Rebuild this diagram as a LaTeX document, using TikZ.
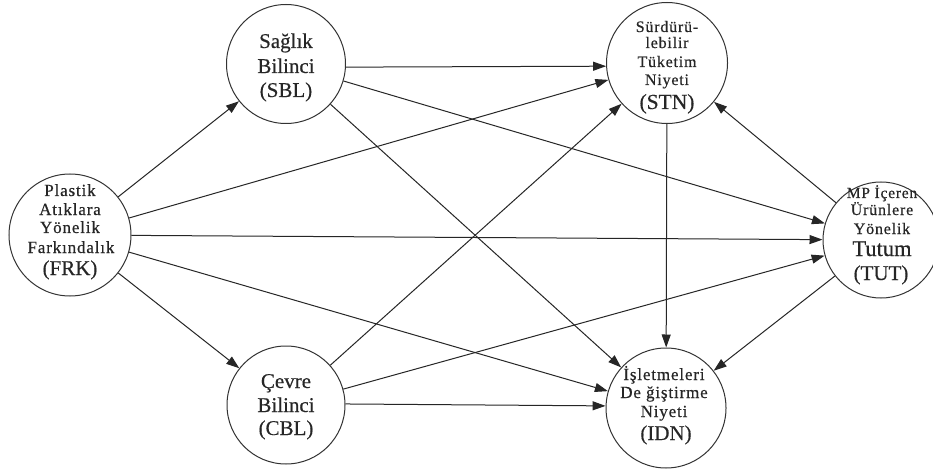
\documentclass[tikz,border=0pt]{standalone}
\usepackage{fontspec}
\setmainfont{Liberation Serif}
\newfontfamily\spaced[LetterSpace=5,FakeBold=0.5]{Liberation Serif}
\newfontfamily\heavy[FakeBold=0.4]{Liberation Serif}
\usetikzlibrary{arrows.meta}
\begin{document}
\begin{tikzpicture}[x=1pt,y=-1pt,
  cnode/.style={circle,draw=black!80,line width=1pt,inner sep=0pt},
  txt/.style={anchor=base,inner sep=0pt,text=black!85},
  sm/.style={txt,font=\spaced\fontsize{16}{18}\selectfont},
  smb/.style={txt,font=\spaced\fontsize{17}{19}\selectfont},
  lg/.style={txt,font=\heavy\fontsize{21}{24}\selectfont},
  arr/.style={-{Triangle[length=13pt,width=9pt]},line width=1pt,draw=black!85}]
\useasboundingbox (0,0) rectangle (933,470);
\fill[white] (0,0) rectangle (933,470);
% circles
\node[cnode,minimum size=122pt] (FRK) at (70,235) {};
\node[cnode,minimum size=119pt] (SBL) at (286,64) {};
\node[cnode,minimum size=121pt] (STN) at (667,63) {};
\node[cnode,minimum size=116pt] (TUT) at (881,240) {};
\node[cnode,minimum size=118pt] (CBL) at (286,405) {};
\node[cnode,minimum size=120pt] (IDN) at (666,408) {};
% texts FRK
\node[smb] (f1) at (70,196) {Plastik};
\node[smb] (f2) at (70,215) {Atıklara};
\node[smb] (f3) at (70,233) {Yönelik};
\node[smb] (f4) at (71,253) {Farkındalık};
\node[lg]  (f5) at (70,275) {(FRK)};
% SBL
\node[lg] (s1) at (286,48) {Sağlık};
\node[lg] (s2) at (286,73) {Bilinci};
\node[lg] (s3) at (286,97) {(SBL)};
% STN
\node[sm] (n1) at (667,32) {Sürdürü-};
\node[sm] (n2) at (667,48) {lebilir};
\node[sm] (n3) at (667,67) {Tüketim};
\node[sm] (n4) at (667,85) {Niyeti};
\node[lg,font=\heavy\fontsize{21.5}{24}\selectfont] (n5) at (667,109) {(STN)};
% TUT
\node[sm,font=\spaced\fontsize{15.5}{18}\selectfont] (t1) at (882,198) {MP İçeren};
\node[sm] (t2) at (882,215) {Ürünlere};
\node[sm] (t3) at (882,234) {Yönelik};
\node[lg,font=\heavy\fontsize{22.5}{24}\selectfont] (t4) at (882,256) {Tutum};
\node[lg] (t5) at (881,280) {(TUT)};
% CBL
\node[lg] (c1) at (286,388) {Çevre};
\node[lg] (c2) at (286,412) {Bilinci};
\node[lg] (c3) at (286,435) {(CBL)};
% IDN
\node[smb] (i1) at (664,380) {İşletmeleri};
\node[smb] (i2) at (664,398) {De ğiştirme};
\node[smb] (i3) at (664,417) {Niyeti};
\node[lg]  (i4) at (666,440) {(IDN)};
% arrows
\draw[arr] (FRK) -- (SBL);
\draw[arr] (FRK) -- (CBL);
\draw[arr] (FRK) -- (STN);
\draw[arr] (FRK) -- (TUT);
\draw[arr] (FRK) -- (IDN);
\draw[arr] (SBL.-3.5) -- (STN.183.5);
\draw[arr] (SBL) -- (TUT);
\draw[arr] (SBL) -- (IDN);
\draw[arr] (CBL) -- (STN);
\draw[arr] (CBL) -- (TUT);
\draw[arr] (CBL.1.5) -- (IDN.178.5);
\draw[arr] (STN) -- (IDN);
\draw[arr] (TUT) -- (STN);
\draw[arr] (TUT) -- (IDN);
\end{tikzpicture}
\end{document}
